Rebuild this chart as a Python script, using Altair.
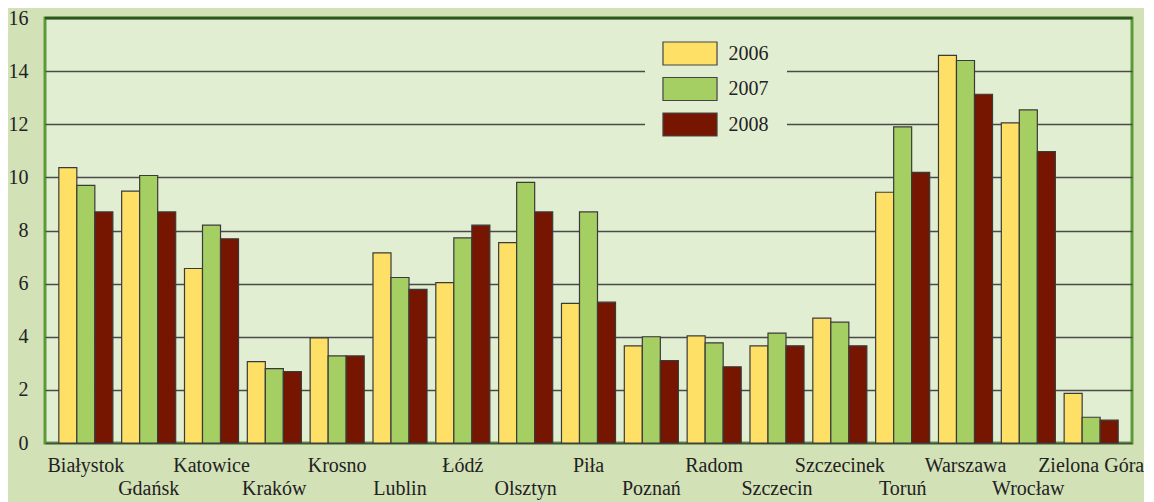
import altair as alt
import pandas as pd

cities = ["Białystok", "Gdańsk", "Katowice", "Kraków", "Krosno", "Lublin", "Łódź",
          "Olsztyn", "Piła", "Poznań", "Radom", "Szczecin", "Szczecinek", "Toruń",
          "Warszawa", "Wrocław", "Zielona Góra"]
years = ["2006", "2007", "2008"]
v2006 = [10.37, 9.48, 6.57, 3.06, 3.96, 7.16, 6.04, 7.54, 5.26, 3.66, 4.03, 3.66, 4.70, 9.44, 14.59, 12.05, 1.87]
v2007 = [9.70, 10.07, 8.20, 2.80, 3.28, 6.23, 7.72, 9.81, 8.70, 4.00, 3.77, 4.14, 4.55, 11.90, 14.40, 12.54, 0.97]
v2008 = [8.70, 8.70, 7.69, 2.69, 3.28, 5.78, 8.20, 8.70, 5.30, 3.10, 2.87, 3.66, 3.66, 10.19, 13.13, 10.97, 0.86]
y_ticks = [0, 2, 4, 6, 8, 10, 12, 14, 16]
colors = ["#FFE066", "#A5CF63", "#761500"]

rows = []
for yr, vals in zip(years, [v2006, v2007, v2008]):
    for c, v in zip(cities, vals):
        rows.append({"city": c, "year": yr, "value": v})
df = pd.DataFrame(rows)
lab = pd.DataFrame({"city": cities, "row": [i % 2 for i in range(len(cities))]})

W, H = 1087, 425
SERIF = "Liberation Serif, Times New Roman, serif"

xscale = alt.Scale(domain=cities, paddingInner=0.14, paddingOuter=0.22)

bars = alt.Chart(df).mark_bar(stroke="#3a3a3a", strokeWidth=1.2).encode(
    x=alt.X("city:N", sort=cities, scale=xscale, axis=None),
    xOffset=alt.XOffset("year:N", scale=alt.Scale(domain=years, paddingInner=0, paddingOuter=0)),
    y=alt.Y("value:Q", scale=alt.Scale(domain=[0, 16], nice=False),
            axis=alt.Axis(values=y_ticks, grid=True, gridColor="#4a4a4a", gridWidth=1.5,
                          domain=False, ticks=False, labelFont=SERIF, labelFontSize=20,
                          labelColor="#222222", labelPadding=17, title=None)),
    color=alt.Color("year:N", scale=alt.Scale(domain=years, range=colors),
                    legend=alt.Legend(orient="none", legendX=600, legendY=6, title=None,
                                      symbolType="M-2.35,-1H2.35V1H-2.35Z", symbolSize=529,
                                      symbolOffset=15.5, labelOffset=26, rowPadding=6.5,
                                      symbolStrokeColor="#444444", symbolStrokeWidth=1.2,
                                      symbolOpacity=1, labelFont=SERIF, labelFontSize=20,
                                      labelColor="#222222", padding=17,
                                      fillColor="#E2EED2", strokeColor="#E2EED2")),
)

top_rule = alt.Chart(pd.DataFrame({"v": [16]})).mark_rule(color="#2E5424", strokeWidth=2.5).encode(
    y=alt.Y("v:Q")
)

def label_layer(r, ypix):
    return alt.Chart(lab).transform_filter(alt.datum.row == r).mark_text(
        font=SERIF, fontSize=20, color="#222222", baseline="alphabetic", align="center"
    ).encode(
        x=alt.X("city:N", sort=cities, scale=xscale, axis=None),
        y=alt.value(ypix),
        text="city:N",
    )

chart = alt.layer(bars, top_rule, label_layer(0, H + 29), label_layer(1, H + 52)).properties(
    width=W, height=H,
    background="#D3E1B7",
    padding={"left": 37, "top": 10, "right": 12, "bottom": 59},
    autosize=alt.AutoSizeParams(type="none"),
).configure_view(
    fill="#E2EED2", stroke="#5A9B38", strokeWidth=3
)

chart.save("out.html", embed_options={"renderer": "svg", "actions": False})
